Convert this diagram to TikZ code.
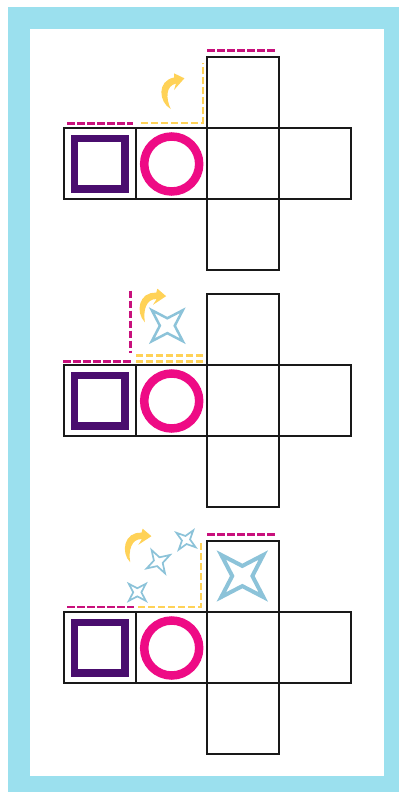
\documentclass[tikz,border=0pt]{standalone}
\definecolor{framec}{HTML}{9BE0EE}
\definecolor{starc}{HTML}{8CC3D9}
\definecolor{yel}{HTML}{FFD257}
\definecolor{mag}{HTML}{C8107C}
\definecolor{pinkc}{HTML}{EE0B85}
\definecolor{purp}{HTML}{4A0D6E}
\tikzset{
  cell/.style={draw=black!90,line width=1.8pt},
  magdash/.style={draw=mag,line width=2.8pt,dash pattern=on 7.5pt off 2.5pt},
  yeldash/.style={draw=yel,line width=2.3pt,dash pattern=on 7pt off 3pt},
  sq/.style={draw=purp,line width=7.3pt,miter limit=10},
  ring/.style={draw=pinkc,line width=8.5pt},
  curvearrow/.style={fill=yel,draw=none},
  sparkle/.style={draw=starc,line join=miter}
}
\newcommand{\crossp}[1]{%
  \begin{scope}[yshift=-#1pt]
    \draw[cell] (64,128) rectangle (136,199);
    \draw[cell] (136,128) rectangle (207,199);
    \draw[cell] (207,128) rectangle (279,199);
    \draw[cell] (279,128) rectangle (351,199);
    \draw[cell] (207,57) rectangle (279,128);
    \draw[cell] (207,199) rectangle (279,270);
    \draw[sq] (74.4,138.7) rectangle (125,189);
    \draw[ring] (171.7,164) circle (27.5);
  \end{scope}}
\newcommand{\sparkl}[5]{% x,y,half,rot,width
  \draw[sparkle,line width=#5pt,shift={(#1,#2)},rotate=#4]
    (-#3,-#3) -- (0,-0.48*#3) -- (#3,-#3) -- (0.48*#3,0) -- (#3,#3) -- (0,0.48*#3) -- (-#3,#3) -- (-0.48*#3,0) -- cycle;}
\newcommand{\curvarr}[3]{% x,y,rot
  \fill[curvearrow,shift={(#1,#2)},rotate=#3]
    (-1,19) .. controls (-13,12) and (-15,-9) .. (2.3,-12.5) -- (2.3,-16.7) -- (12.7,-11.7) -- (2.3,0) -- (4.3,-6.5)
    .. controls (-6,-4) and (-6,8) .. (-1,19) -- cycle;}
\begin{document}
\begin{tikzpicture}[x=1pt,y=-1pt]
\useasboundingbox (0,0) rectangle (399,792);
\fill[white] (0,0) rectangle (399,792);
\fill[framec] (8,7) rectangle (399,792);
\fill[white] (30,29) rectangle (384,776);
\crossp{0}
\crossp{237}
\crossp{484}
% panel 1
\draw[magdash] (207.3,50.7) -- (275,50.7);
\draw[magdash] (67.3,123.3) -- (133,123.3);
\draw[yeldash] (141,122.7) -- (202.7,122.7) -- (202.7,62.7);
\curvarr{171.7}{90}{0}
% panel 2
\draw[magdash] (130.3,290.7) -- (130.3,353.3);
\draw[magdash] (63.3,361.7) -- (131,361.7);
\draw[yeldash,line width=3pt] (136,355.8) -- (204,355.8);
\draw[yeldash,line width=3pt] (136,361.3) -- (204,361.3);
\curvarr{150.8}{304.2}{-15}
\sparkl{167.3}{325.7}{15.5}{0}{2.5}
% panel 3
\draw[magdash] (207.3,534.7) -- (275,534.7);
\draw[magdash] (67.3,607) -- (134.3,607);
\draw[yeldash,line width=2.6pt] (138.3,607) -- (201,607) -- (201,541.7);
\curvarr{136.1}{544.2}{-15}
\sparkl{242.3}{576}{21}{0}{4}
\sparkl{137.3}{592.3}{8.5}{0}{1.7}
\sparkl{158.3}{561.7}{9.5}{-15}{1.7}
\sparkl{186}{540}{8.5}{8}{1.7}
\end{tikzpicture}
\end{document}
